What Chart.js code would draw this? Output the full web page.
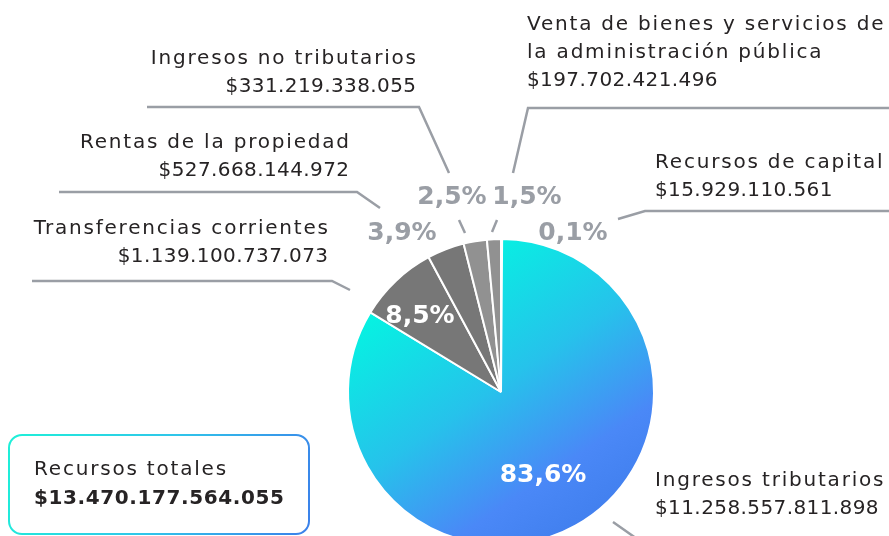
<!DOCTYPE html>
<html><head><meta charset="utf-8">
<script src="https://cdn.jsdelivr.net/npm/chart.js@4.4.1/dist/chart.umd.min.js"></script>
<style>
html,body{margin:0;padding:0;background:#fff;overflow:hidden;width:889px;height:536px}
#wrap{position:relative;width:889px;height:536px;overflow:hidden}
canvas{position:absolute;left:0;top:0}
</style></head><body>
<div id="wrap"><canvas id="c" width="889" height="560"></canvas></div>
<script>
// ---- data ----
const categories = ['Recursos de capital','Ingresos tributarios','Transferencias corrientes','Rentas de la propiedad','Ingresos no tributarios','Venta de bienes y servicios de la administración pública'];
const amounts = [15929110561, 11258557811898, 1139100737073, 527668144972, 331219338055, 197702421496];
const amountLabels = ['$15.929.110.561','$11.258.557.811.898','$1.139.100.737.073','$527.668.144.972','$331.219.338.055','$197.702.421.496'];
const percentLabels = ['0,1%','83,6%','8,5%','3,9%','2,5%','1,5%'];
const totalTitle = 'Recursos totales';
const totalValue = '$13.470.177.564.055';

// ---- layout (annotation positions, not data) ----
const labelLayout = [
  {name:['Recursos de capital'], x:655, y:163, align:'left', leader:[[889,211],[645,211],[618,219]], pct:[573,233], pctColor:'#9a9ea5'},
  {name:['Ingresos tributarios'], x:655, y:481, align:'left', leader:[[889,548],[650,548],[613,522]], pct:[543,475], pctColor:'#ffffff'},
  {name:['Transferencias corrientes'], x:328, y:229, align:'right', leader:[[32,281],[332,281],[350,290]], pct:[420,316], pctColor:'#ffffff'},
  {name:['Rentas de la propiedad'], x:349, y:143, align:'right', leader:[[59,192],[357,192],[380,208]], pct:[402,233], pctColor:'#9a9ea5'},
  {name:['Ingresos no tributarios'], x:416, y:59, align:'right', leader:[[147,107],[419,107],[449,173]], tick:[[459,220],[465,233]], pct:[452,197], pctColor:'#9a9ea5'},
  {name:['Venta de bienes y servicios de','la administración pública'], x:527, y:25, align:'left', leader:[[889,108],[528,108],[513,173]], tick:[[497,220],[492,232]], pct:[527,197], pctColor:'#9a9ea5'}
];
const LINE_H = 28;
const TEXT_FONT = '400 20px "DejaVu Sans", sans-serif';
const NAME_SPACING = 1.8;
const AMOUNT_SPACING = 0.4;
const PCT_FONT = '700 25px "DejaVu Sans", sans-serif';
const TOTAL_FONT = '700 20px "DejaVu Sans", sans-serif';
const TEXT_COLOR = '#262324';
const LINE_COLOR = '#9a9ea5';

const sliceColors = ['#919191', null, '#777777', '#777777', '#919191', '#919191'];

function bg(ctx){
  const i = ctx.dataIndex;
  if (sliceColors[i]) return sliceColors[i];
  const chart = ctx.chart; const a = chart.chartArea;
  if (!a) return '#22c6ea';
  const g = chart.ctx.createLinearGradient(a.left+80, a.top+10, a.left+272, a.bottom-15);
  g.addColorStop(0, '#00fbe0');
  g.addColorStop(0.45, '#26c2eb');
  g.addColorStop(0.75, '#4a88f7');
  g.addColorStop(1, '#3e7ceb');
  return g;
}

function drawText(c, t, x, y, align, spacing){
  c.letterSpacing = spacing + 'px';
  // compensate trailing spacing for right aligned text
  c.textAlign = align;
  c.fillText(t, align === 'right' ? x + spacing : x, y);
  c.letterSpacing = '0px';
}

const annotations = {
  id:'annotations',
  afterDraw(chart){
    const c = chart.ctx;
    c.save();
    c.strokeStyle = LINE_COLOR; c.lineWidth = 2.5; c.lineCap='butt'; c.lineJoin='miter';
    labelLayout.forEach(l=>{
      c.beginPath();
      l.leader.forEach((p,k)=> k? c.lineTo(p[0],p[1]) : c.moveTo(p[0],p[1]));
      c.stroke();
      if (l.tick){ c.beginPath(); c.moveTo(l.tick[0][0],l.tick[0][1]); c.lineTo(l.tick[1][0],l.tick[1][1]); c.stroke(); }
    });
    c.textBaseline='middle';
    labelLayout.forEach((l,i)=>{
      c.font = TEXT_FONT; c.fillStyle = TEXT_COLOR;
      l.name.forEach((t,k)=> drawText(c, t, l.x, l.y + k*LINE_H, l.align, NAME_SPACING));
      drawText(c, amountLabels[i], l.x, l.y + l.name.length*LINE_H, l.align, AMOUNT_SPACING);
      c.font = PCT_FONT; c.fillStyle = l.pctColor;
      drawText(c, percentLabels[i], l.pct[0], l.pct[1], 'center', 0);
    });
    const bx=9, by=435, bw=300, bh=99, r=13;
    const g = c.createLinearGradient(bx, by, bx+bw, by+bh);
    g.addColorStop(0,'#1ef0d8'); g.addColorStop(0.5,'#2fc6ea'); g.addColorStop(1,'#3b80ea');
    c.strokeStyle = g; c.lineWidth = 2;
    c.beginPath(); c.roundRect(bx,by,bw,bh,r); c.stroke();
    c.fillStyle = TEXT_COLOR;
    c.font = TEXT_FONT; drawText(c, totalTitle, 34, 470, 'left', NAME_SPACING);
    c.font = TOTAL_FONT; drawText(c, totalValue, 34, 499, 'left', 0.6);
    c.restore();
  }
};

new Chart(document.getElementById('c'), {
  type:'pie',
  data:{ labels:categories, datasets:[{ data:amounts, backgroundColor:bg, borderColor:'#ffffff', borderWidth:2, hoverOffset:0 }]},
  options:{
    responsive:false, animation:false, rotation:0,
    layout:{ padding:{ left:347, right:234, top:238, bottom:14 } },
    plugins:{ legend:{display:false}, tooltip:{enabled:false} },
    events:[]
  },
  plugins:[annotations]
});
</script>
</body></html>
